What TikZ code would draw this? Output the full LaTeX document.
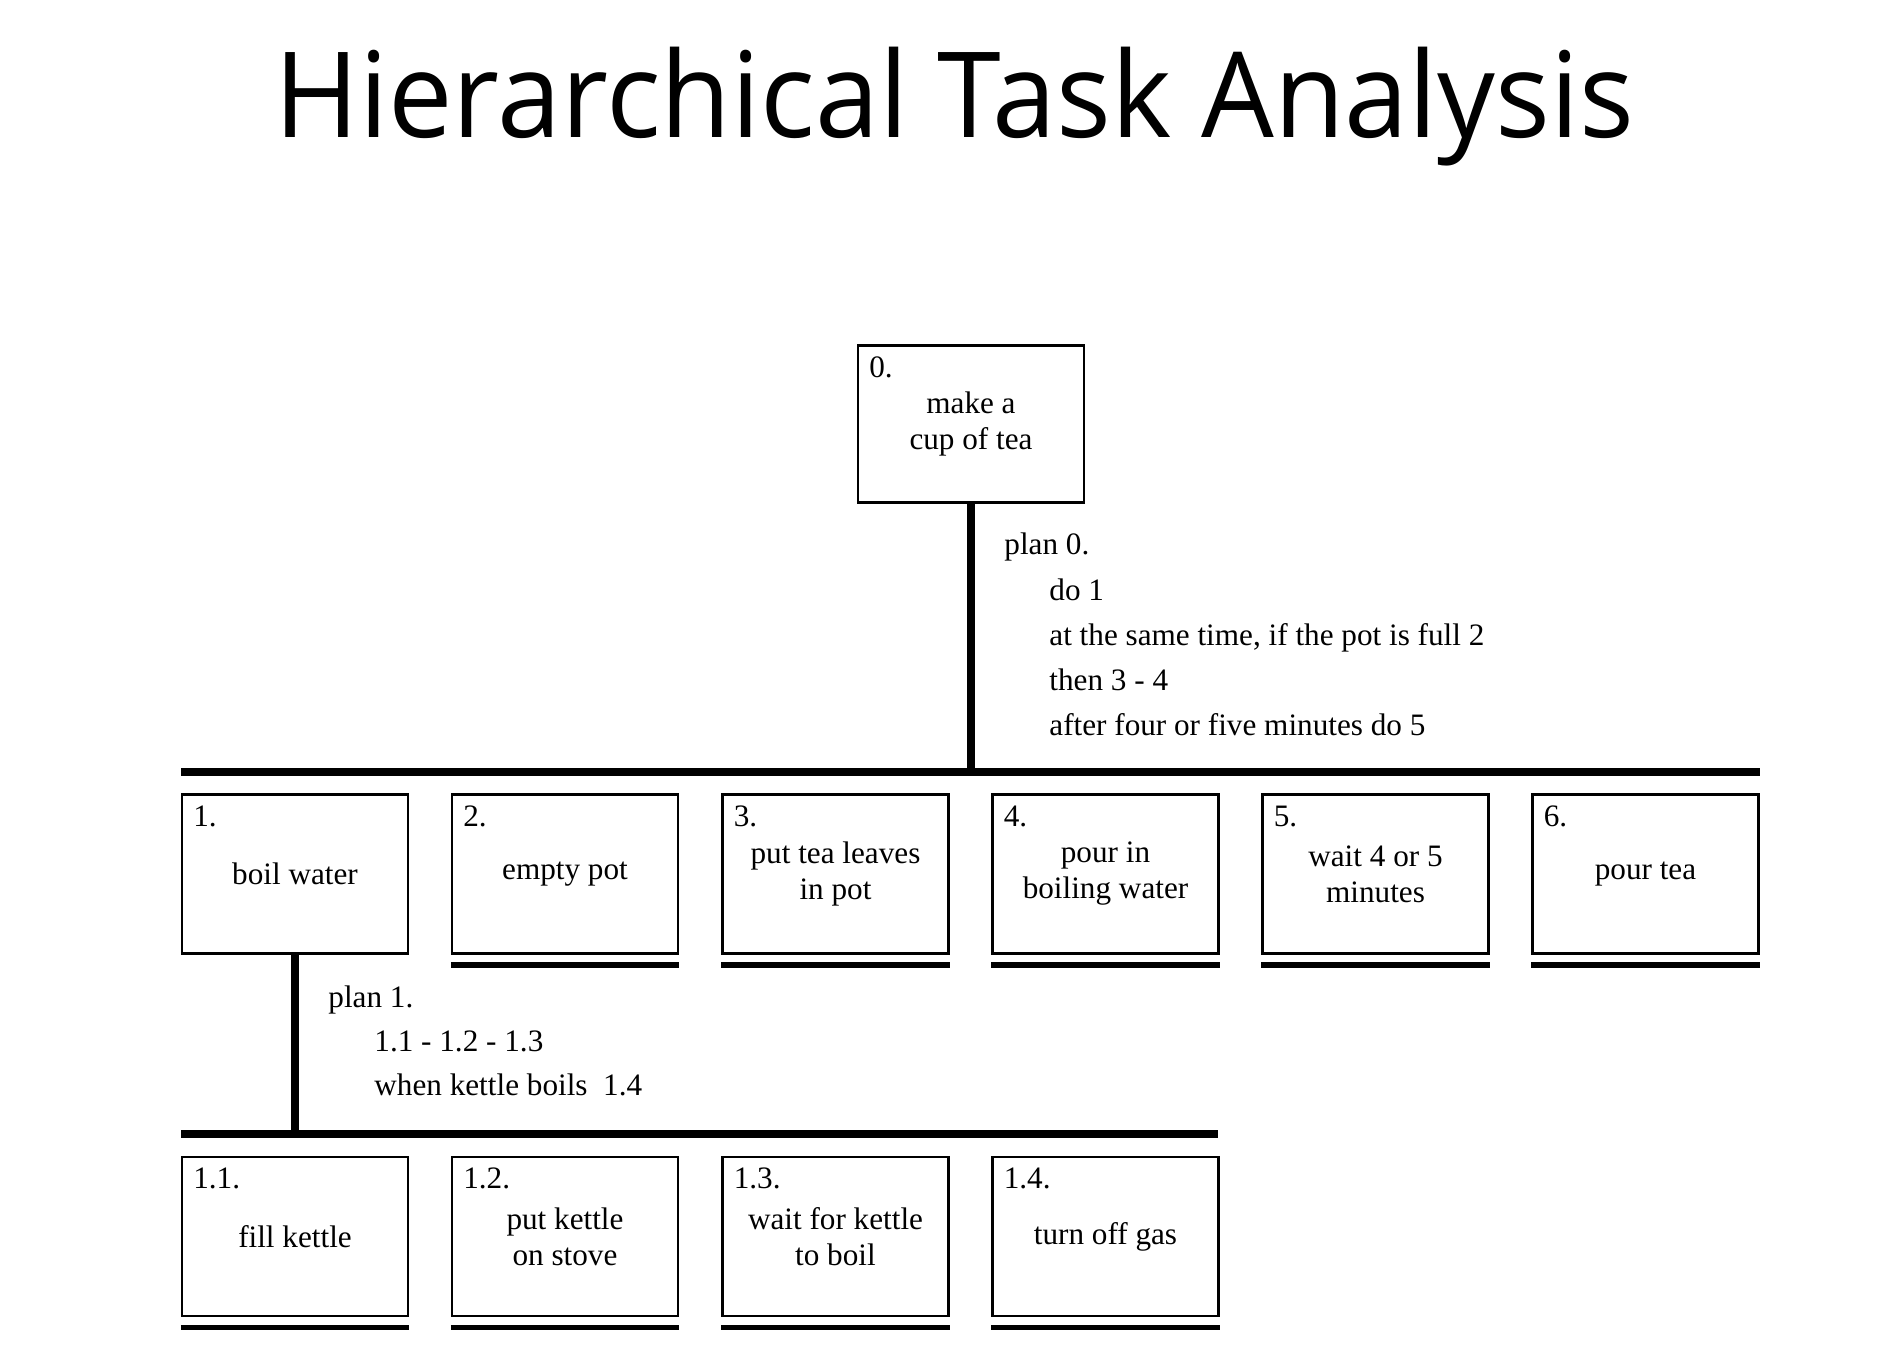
\documentclass[tikz,border=0pt]{standalone}
\usepackage{fontspec}
\setmainfont{Liberation Serif}
\newfontfamily\titlefont{Open Sans}
\usetikzlibrary{calc}
\begin{document}
\begin{tikzpicture}[x=0.5pt,y=-0.5pt,
  txt/.style={font=\fontsize{15.6}{18}\selectfont},
  task/.style={draw, line width=1.1pt, minimum width=113pt, minimum height=79.5pt, inner sep=0pt, align=center, txt},
  num/.style={anchor=north west, inner sep=0pt, txt},
  plan/.style={anchor=base west, inner sep=0pt, txt},
  bar/.style={line width=4.2pt},
  stem/.style={line width=4pt},
  under/.style={line width=3.2pt},
  underb/.style={line width=2.4pt}]
\useasboundingbox[fill=white] (0,0) rectangle (1892,1346);

% title
\node[anchor=base, inner sep=0pt, font=\titlefont\fontsize{59.5}{66}\selectfont] (title) at (954.5,137) {\scalebox{0.966}[1]{Hierarchical Task Analysis}};

% top task
\node[task, minimum height=78.5pt] (t0) at (971,424) {make a\\cup of tea};
\node[num] (t0n) at ([shift={(12,12)}]t0.north west) {0.};

% level 1 bar
\coordinate (barL) at (181,772);
\coordinate (barR) at (1760,772);
\draw[bar] (barL) -- (barR);
\draw[stem] (t0.south) -- (t0.south |- barL);

% plan 0
\node[plan] (p0a) at (1004,554) {plan 0.};
\node[plan] (p0b) at (1049,600) {do 1};
\node[plan] (p0c) at (1049,645.5) {at the same time, if the pot is full 2};
\node[plan] (p0d) at (1049,690.5) {then 3 - 4};
\node[plan] (p0e) at (1049,735) {after four or five minutes do 5};

% level 1 tasks
\node[task] (t1) at (295,874) {boil water};
\node[task] (t2) at (565,874) {empty pot};
\node[task] (t3) at (835.5,874) {put tea leaves\\in pot};
\node[task] (t4) at (1105.5,874) {pour in\\boiling water};
\node[task] (t5) at (1375.5,874) {wait 4 or 5\\minutes};
\node[task] (t6) at (1645.5,874) {pour tea};
\foreach \i in {1,...,6} {
  \node[num] (t\i n) at ([shift={(12,12)}]t\i.north west) {\i.};
}
\foreach \i in {2,...,6} {
  \draw[under] ([yshift=-5.3pt]t\i.south west) -- ([yshift=-5.3pt]t\i.south east);
}

% level 2 bar
\coordinate (bar2L) at (181,1134);
\coordinate (bar2R) at (1218,1134);
\draw[bar] (bar2L) -- (bar2R);
\draw[stem] (t1.south) -- (t1.south |- bar2L);

% plan 1
\node[plan] (p1a) at (328,1007.5) {plan 1.};
\node[plan] (p1b) at (374,1051) {1.1 - 1.2 - 1.3};
\node[plan] (p1c) at (374,1095.5) {when kettle boils\ \ 1.4};

% level 2 tasks
\node[task] (s1) at (295,1236.5) {fill kettle};
\node[task] (s2) at (565,1236.5) {put kettle\\on stove};
\node[task] (s3) at (835.5,1236.5) {wait for kettle\\to boil};
\node[task] (s4) at (1105.5,1236.5) {turn off gas};
\foreach \i in {1,...,4} {
  \node[num] (s\i n) at ([shift={(12,12)}]s\i.north west) {1.\i.};
  \draw[underb] ([yshift=-5.3pt]s\i.south west) -- ([yshift=-5.3pt]s\i.south east);
}
\end{tikzpicture}
\end{document}
